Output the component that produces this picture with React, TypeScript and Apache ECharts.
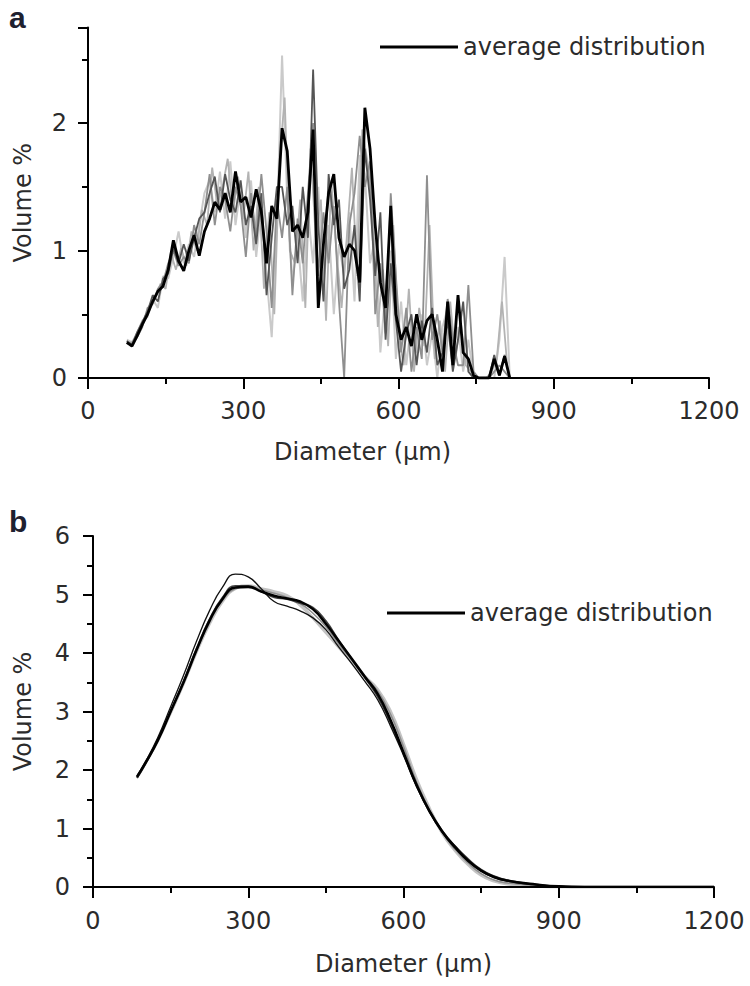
import React, { useEffect, useRef } from "react";
import * as echarts from "echarts";

// ---------- Panel a: raw distributions (noisy) ----------
const diamA = [
  75, 85, 95, 105, 115, 125, 135, 145, 155, 165, 175, 185, 195, 205, 215, 225, 235, 245, 255, 265,
  275, 285, 295, 305, 315, 325, 335, 345, 355, 365, 375, 385, 395, 405, 415, 425, 435, 445, 455, 465,
  475, 485, 495, 505, 515, 525, 535, 545, 555, 565, 575, 585, 595, 605, 615, 625, 635, 645, 655, 665,
  675, 685, 695, 705, 715, 725, 735, 745, 755, 765, 775, 785, 795, 805, 815,
];
const diamA2 = [
  80, 90, 100, 110, 120, 130, 140, 150, 160, 170, 180, 190, 200, 210, 220, 230, 240, 250, 260, 270,
  280, 290, 300, 310, 320, 330, 340, 350, 360, 370, 380, 390, 400, 410, 420, 430, 440, 450, 460, 470,
  480, 490, 500, 510, 520, 530, 540, 550, 560, 570, 580, 590, 600, 610, 620, 630, 640, 650, 660, 670,
  680, 690, 700, 710, 720, 730, 740, 750, 760, 770, 780, 790, 800, 810,
];
const lightA = [
  0.3, 0.28, 0.35, 0.45, 0.48, 0.62, 0.55, 0.8, 0.78, 0.95, 1.15, 0.9, 1.05, 0.95, 1.2, 1.45, 1.55, 1.3, 1.62, 1.25,
  1.7, 1.2, 1.5, 1.1, 1.55, 0.95, 1.35, 0.8, 0.32, 1.2, 2.53, 1.4, 0.75, 1.1, 0.6, 1.3, 0.9, 1.5, 0.7, 1.2,
  0.5, 1.05, 0.8, 1.3, 0.6, 1.75, 1.6, 0.9, 1.1, 0.2, 0.7, 1.0, 0.15, 0.6, 0.1, 0.45, 0.2, 0.5, 0.1, 0.35,
  0.0, 0.4, 0.55, 0.2, 0.4, 0.05, 0.3, 0, 0, 0, 0, 0, 0.3, 0.95, 0,
];
const paleA = [
  0.27, 0.3, 0.38, 0.47, 0.58, 0.62, 0.74, 0.7, 0.98, 0.85, 1.02, 0.88, 1.15, 1.0, 1.32, 1.2, 1.65, 1.35, 1.5, 1.72,
  1.3, 1.58, 1.25, 1.62, 1.0, 1.5, 0.7, 1.3, 0.5, 1.7, 2.2, 1.0, 0.9, 1.4, 0.55, 1.8, 1.1, 1.4, 0.45, 1.55,
  1.0, 0.55, 1.1, 1.65, 0.8, 1.95, 1.7, 1.3, 0.4, 0.85, 0.25, 1.2, 0.35, 0.1, 0.7, 0.05, 0.55, 0.25, 1.2, 0.15,
  0.45, 0.05, 0.6, 0.15, 0.45, 0.1, 0.05, 0, 0, 0, 0.05, 0.15, 0.6, 0.1,
];
const midA = [
  0.27, 0.27, 0.32, 0.4, 0.55, 0.58, 0.7, 0.75, 0.9, 1.0, 0.88, 0.95, 0.9, 1.2, 1.05, 1.3, 1.6, 1.2, 1.5, 1.4,
  1.15, 1.5, 1.35, 0.95, 1.45, 1.1, 1.6, 1.15, 0.55, 1.4, 1.1, 1.5, 0.65, 1.25, 0.9, 1.45, 2.0, 0.8, 1.3, 0.9,
  1.35, 0.6, 0.0, 1.2, 1.45, 1.9, 1.5, 1.7, 0.5, 0.9, 0.35, 1.45, 0.8, 0.2, 0.55, 0.05, 0.4, 0.15, 1.59, 0.3,
  0.5, 0.2, 0.62, 0.3, 0.1, 0.1, 0.73, 0.05, 0, 0, 0, 0.05, 0.1, 0.05, 0,
];
const darkA = [
  0.29, 0.26, 0.36, 0.44, 0.52, 0.65, 0.6, 0.78, 0.82, 1.02, 0.9, 1.05, 0.92, 1.1, 1.25, 1.3, 1.45, 1.58, 1.3, 1.6,
  1.4, 1.3, 1.55, 1.2, 1.35, 1.05, 1.45, 0.65, 1.1, 1.5, 1.5, 1.2, 1.35, 0.9, 1.5, 1.1, 2.42, 1.2, 0.6, 1.6,
  1.2, 1.4, 0.7, 0.85, 1.2, 0.6, 1.8, 1.4, 0.8, 1.3, 0.3, 0.9, 0.45, 0.05, 0.35, 0.5, 0.1, 0.45, 0.2, 0.55,
  0.1, 0.2, 0.45, 0.05, 0.3, 0.6, 0.05, 0, 0, 0, 0, 0.18, 0.02, 0.18, 0,
];
const avgA = [
  0.28, 0.25, 0.33, 0.42, 0.5, 0.6, 0.68, 0.72, 0.85, 1.08, 0.92, 0.84, 1.0, 1.12, 0.96, 1.15, 1.25, 1.38, 1.32, 1.45,
  1.3, 1.62, 1.38, 1.42, 1.26, 1.48, 1.3, 0.9, 1.35, 1.25, 1.96, 1.78, 1.15, 1.2, 1.1, 1.3, 1.95, 0.55, 1.05, 1.45,
  1.6, 1.1, 0.95, 1.05, 1.0, 0.75, 2.12, 1.8, 1.2, 0.75, 0.55, 1.35, 0.5, 0.3, 0.4, 0.25, 0.5, 0.3, 0.45, 0.5,
  0.3, 0.05, 0.6, 0.1, 0.65, 0.2, 0.15, 0.02, 0, 0, 0, 0.15, 0.02, 0.17, 0,
];

// ---------- Panel b: smoothed distributions ----------
const diamB = [
  85, 100, 125, 150, 175, 200, 225, 250, 275, 300, 325, 350, 375, 400, 425, 450, 475, 500, 525, 550,
  575, 600, 625, 650, 675, 700, 725, 750, 775, 800, 850, 900, 950, 1000, 1100, 1200,
];
const lightB = [
  1.87, 2.1, 2.5, 2.98, 3.48, 4.02, 4.5, 4.88, 5.1, 5.15, 5.1, 5.05, 4.98, 4.82, 4.6, 4.35, 4.1, 3.85, 3.6, 3.38,
  3.0, 2.45, 1.85, 1.35, 0.92, 0.62, 0.38, 0.2, 0.1, 0.05, 0.02, 0, 0, 0, 0, 0,
];
const midB = [
  1.87, 2.1, 2.5, 2.99, 3.5, 4.04, 4.52, 4.9, 5.1, 5.14, 5.08, 5.02, 4.95, 4.85, 4.68, 4.45, 4.15, 3.88, 3.6, 3.35,
  2.95, 2.4, 1.8, 1.32, 0.93, 0.64, 0.41, 0.23, 0.12, 0.07, 0.03, 0.01, 0, 0, 0, 0,
];
const darkB = [
  1.86, 2.08, 2.5, 3.0, 3.52, 4.08, 4.58, 4.95, 5.15, 5.15, 5.05, 4.95, 4.92, 4.85, 4.78, 4.55, 4.22, 3.9, 3.58, 3.25,
  2.8, 2.28, 1.74, 1.3, 0.96, 0.7, 0.48, 0.3, 0.19, 0.12, 0.05, 0.01, 0, 0, 0, 0,
];
const thinB = [
  1.9, 2.12, 2.55, 3.08, 3.62, 4.2, 4.72, 5.12, 5.35, 5.3, 5.1, 4.88, 4.8, 4.72, 4.6, 4.4, 4.1, 3.82, 3.52, 3.2,
  2.75, 2.25, 1.72, 1.28, 0.93, 0.66, 0.44, 0.27, 0.16, 0.1, 0.04, 0.01, 0, 0, 0, 0,
];
const avgB = [
  1.88, 2.1, 2.5, 3.0, 3.5, 4.05, 4.55, 4.92, 5.12, 5.13, 5.05, 4.98, 4.93, 4.88, 4.75, 4.5, 4.2, 3.9, 3.6, 3.3,
  2.85, 2.3, 1.75, 1.3, 0.95, 0.68, 0.45, 0.28, 0.17, 0.11, 0.05, 0.01, 0, 0, 0, 0,
];

const LEGEND_NAME = "average distribution";
const FONT = "DejaVu Sans";
const TXT = "#2b2b2b";

function pairs(x: number[], y: number[]) {
  return x.map((v, i) => [v, y[i]]);
}

const tickStyle = { color: "#000", width: 2 };

function xAxis(gridIndex: number, margin: number, nameGap: number, namePad: number[]) {
  return {
    type: "value",
    gridIndex,
    position: "bottom",
    min: 0,
    max: 1200,
    interval: 300,
    name: "Diameter (\u03bcm)",
    nameLocation: "middle",
    nameGap,
    nameMoveOverlap: false,
    nameTextStyle: { fontFamily: FONT, fontSize: 24, color: TXT, padding: namePad },
    axisLine: { show: true, onZero: false, lineStyle: { color: "#000", width: 2 } },
    axisTick: { show: true, length: 11, lineStyle: tickStyle },
    splitLine: { show: false },
    axisLabel: { fontFamily: FONT, fontSize: 24, color: TXT, margin, formatter: (v: number) => String(v) },
    z: 10,
  };
}

function xMinor(gridIndex: number) {
  return {
    type: "value",
    gridIndex,
    position: "bottom",
    min: 0,
    max: 1200,
    interval: 150,
    axisLine: { show: false, onZero: false },
    axisTick: { show: true, length: 6, lineStyle: tickStyle },
    axisLabel: { show: false },
    splitLine: { show: false },
    z: 10,
  };
}

function yAxis(gridIndex: number, max: number, margin: number, nameGap: number) {
  return {
    type: "value",
    gridIndex,
    position: "left",
    min: 0,
    max,
    interval: 1,
    name: "Volume %",
    nameLocation: "middle",
    nameGap,
    nameMoveOverlap: false,
    nameRotate: 90,
    nameTextStyle: { fontFamily: FONT, fontSize: 24, color: TXT },
    axisLine: { show: true, onZero: false, lineStyle: { color: "#000", width: 2 } },
    axisTick: { show: true, length: 10, lineStyle: tickStyle },
    splitLine: { show: false },
    axisLabel: {
      fontFamily: FONT,
      fontSize: 24,
      color: TXT,
      margin,
      formatter: (v: number) => (Number.isInteger(v) ? String(v) : ""),
    },
    z: 10,
  };
}

function yMinor(gridIndex: number, max: number) {
  return {
    type: "value",
    gridIndex,
    position: "left",
    offset: 0,
    min: 0,
    max,
    interval: 0.5,
    axisLine: { show: false, onZero: false },
    axisTick: { show: true, length: 6, lineStyle: tickStyle },
    axisLabel: { show: false },
    splitLine: { show: false },
    z: 10,
  };
}

function line(name: string, xi: number, data: number[][], color: string, width: number, smooth: boolean, z: number) {
  return {
    type: "line",
    name,
    xAxisIndex: xi,
    yAxisIndex: xi,
    data,
    showSymbol: false,
    symbol: "none",
    smooth,
    color,
    lineStyle: { color, width },
    z,
  };
}

export default function App() {
  const ref = useRef<HTMLDivElement>(null);

  useEffect(() => {
    if (!ref.current) return;
    const chart = echarts.init(ref.current, undefined, { renderer: "svg" });
    const legendCommon = {
      padding: 0,
      itemWidth: 78,
      itemHeight: 3,
      selectedMode: false,
      data: [{ name: LEGEND_NAME, icon: "rect" }],
      textStyle: { fontFamily: FONT, fontSize: 24, color: TXT },
    };
    const option = {
      animation: false,
      backgroundColor: "#fff",
      textStyle: { fontFamily: FONT },
      grid: [
        { left: 88, right: 41, top: 27.5, bottom: 608, containLabel: false, outerBoundsMode: "none" },
        { left: 93, right: 36, top: 536, bottom: 99, containLabel: false, outerBoundsMode: "none" },
      ],
      xAxis: [xAxis(0, 21, 62, [0, 72, 0, 0]), xAxis(1, 22, 65, [0, 0, 0, 0]), xMinor(0), xMinor(1)],
      yAxis: [yAxis(0, 2.75, 21, 53), yAxis(1, 6, 23, 58), yMinor(0, 2.75), yMinor(1, 6)],
      legend: [
        { ...legendCommon, left: 380, top: 35 },
        { ...legendCommon, left: 387, top: 601 },
      ],
      graphic: [
        { type: "text", left: 9, top: 2, style: { text: "a", fontFamily: "Liberation Sans", fontSize: 30, fontWeight: "bold", fill: "#1e2130" } },
        { type: "text", left: 9, top: 506, style: { text: "b", fontFamily: "Liberation Sans", fontSize: 30, fontWeight: "bold", fill: "#1e2130" } },
      ],
      series: [
        line("sample 1", 0, pairs(diamA, lightA), "#cacaca", 2, false, 2),
        line("sample 2", 0, pairs(diamA2, paleA), "#b3b3b3", 1.8, false, 2),
        line("sample 3", 0, pairs(diamA, midA), "#8f8f8f", 1.8, false, 3),
        line("sample 4", 0, pairs(diamA, darkA), "#555555", 1.8, false, 4),
        line(LEGEND_NAME, 0, pairs(diamA, avgA), "#000000", 2.8, false, 5),
        line("sample 1", 1, pairs(diamB, lightB), "#c4c4c4", 3, true, 2),
        line("sample 2", 1, pairs(diamB, midB), "#8f8f8f", 1.6, true, 3),
        line("sample 3", 1, pairs(diamB, darkB), "#444444", 1.5, true, 4),
        line("sample 4", 1, pairs(diamB, thinB), "#111111", 1.3, true, 4),
        line(LEGEND_NAME, 1, pairs(diamB, avgB), "#000000", 2.6, true, 5),
      ],
    };
    chart.setOption(option as any);
    return () => chart.dispose();
  }, []);

  return (
    <div
      ref={ref}
      style={{ width: 750, height: 986, position: "absolute", left: 0, top: 0, background: "#fff" }}
    />
  );
}
